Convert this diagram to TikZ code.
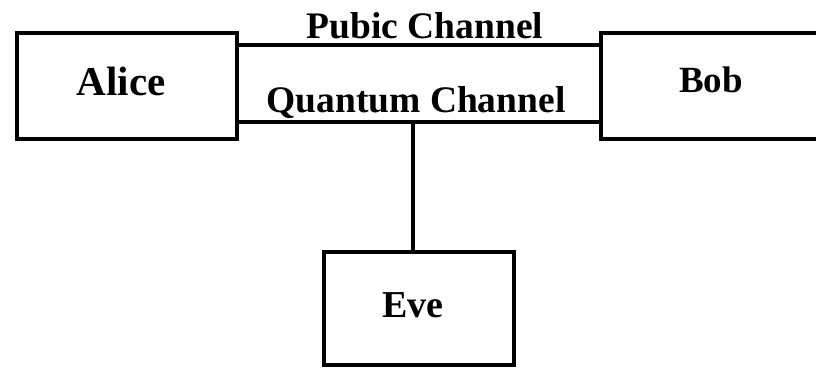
\documentclass[tikz,border=0pt]{standalone}
\usepackage{fontspec}
\setmainfont{Liberation Serif}
\begin{document}
\begin{tikzpicture}[x=1pt,y=-1pt,
  party/.style={draw=black, line width=4pt, rectangle, inner sep=0pt},
  partylabel/.style={inner sep=0pt, anchor=base, font=\bfseries\fontsize{37}{40}\selectfont},
  link/.style={draw=black, line width=4pt},
  chan/.style={font=\bfseries\fontsize{37.5}{40}\selectfont, inner sep=0pt, anchor=base}]
\useasboundingbox (0,0) rectangle (816,367);
\clip (0,0) rectangle (816,367);
\node[party, minimum width=220pt, minimum height=106pt] (alice) at (127,86) {};
\node[party, minimum width=226pt, minimum height=106pt] (bob) at (714,86) {};
\node[party, minimum width=190pt, minimum height=113pt] (eve) at (419,308.5) {};
\node[partylabel, font=\bfseries\fontsize{41}{44}\selectfont] (alicet) at (121,95) {Alice};
\node[partylabel] (bobt) at (711,92) {Bob};
\node[partylabel, font=\bfseries\fontsize{38}{40}\selectfont] (evet) at (413,317) {Eve};
\coordinate (pub) at (0,45);
\coordinate (qua) at (0,122);
\coordinate (tap) at (413,122);
\draw[link] (alice.east |- pub) -- (bob.west |- pub);
\draw[link] (alice.east |- qua) -- (bob.west |- qua);
\draw[link] (eve.north -| tap) -- (tap);
\node[chan] (publbl) at (425,38) {Pubic Channel};
\node[chan] (qualbl) at (416,112) {Quantum Channel};
\end{tikzpicture}
\end{document}
